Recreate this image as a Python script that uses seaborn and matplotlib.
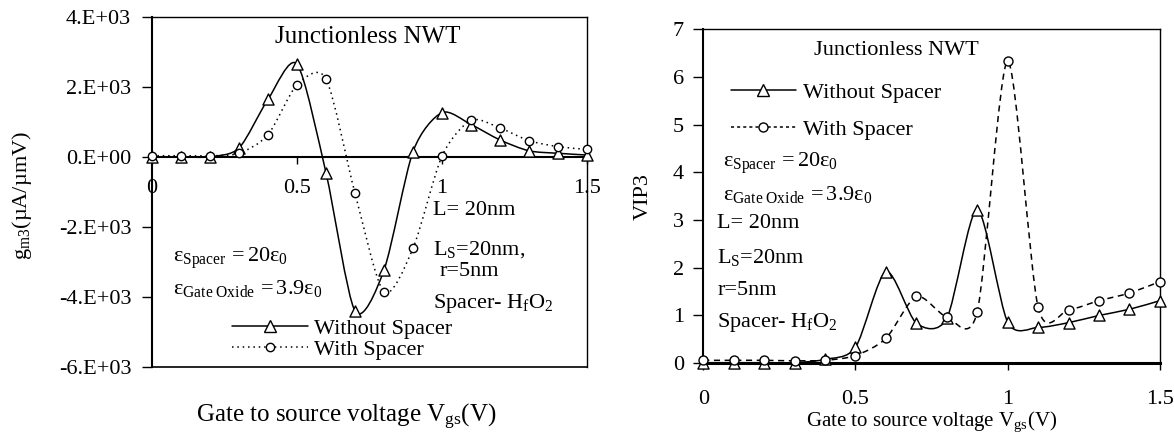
import numpy as np
import seaborn as sns
import matplotlib.pyplot as plt
from matplotlib.path import Path
from matplotlib.patches import PathPatch
from matplotlib.lines import Line2D

# gate-source voltage sweep
vgs = [0.0, 0.1, 0.2, 0.3, 0.4, 0.5, 0.6, 0.7, 0.8, 0.9, 1.0, 1.1, 1.2, 1.3, 1.4, 1.5]

# gm3 (uA/umV)
gm3_without = [0, 0, 0, 250, 1640, 2640, -460, -4400, -3230, 150, 1260, 920, 480, 170, 100, 50]
gm3_with = [30, 30, 30, 100, 630, 2050, 2220, -1040, -3860, -2610, 20, 1040, 820, 460, 290, 210]

# VIP3
vip3_without = [0.01, 0.01, 0.01, 0.01, 0.08, 0.33, 1.92, 0.84, 0.94, 3.22, 0.86, 0.75, 0.85, 1.0, 1.13, 1.31]
vip3_with = [0.06, 0.06, 0.06, 0.05, 0.06, 0.16, 0.52, 1.40, 0.97, 1.08, 6.33, 1.17, 1.12, 1.31, 1.47, 1.71]

series_labels = ["Without Spacer", "With Spacer"]
vgs_ticks = [0, 0.5, 1, 1.5]
vgs_ticklabels = ["0", "0.5", "1", "1.5"]
gm3_ticks = [-6000, -4000, -2000, 0, 2000, 4000]
gm3_ticklabels = ["-6.E+03", "-4.E+03", "-2.E+03", "0.E+00", "2.E+03", "4.E+03"]
vip3_ticks = [0, 1, 2, 3, 4, 5, 6, 7]

sns.set_theme(style="white")
plt.rcParams["font.family"] = ["Liberation Serif", "DejaVu Serif"]
plt.rcParams["mathtext.fontset"] = "custom"
plt.rcParams["mathtext.rm"] = "Liberation Serif"
plt.rcParams["mathtext.it"] = "Liberation Serif:italic"
plt.rcParams["text.color"] = "black"
plt.rcParams["axes.labelcolor"] = "black"
plt.rcParams["xtick.color"] = "black"
plt.rcParams["ytick.color"] = "black"

FS = 16


def smooth_path(x, y, k=7.5):
    # Excel-like smoothed line: cubic bezier through the data points
    pts = np.column_stack([x, y]).astype(float)
    p = np.vstack([pts[0], pts, pts[-1]])
    verts = [pts[0]]
    codes = [Path.MOVETO]
    for i in range(1, len(p) - 2):
        c1 = p[i] + (p[i + 1] - p[i - 1]) / k
        c2 = p[i + 1] - (p[i + 2] - p[i]) / k
        verts += [c1, c2, p[i + 1]]
        codes += [Path.CURVE4] * 3
    return Path(verts, codes)


def draw_series(ax, y, marker, size, ls):
    ax.add_patch(PathPatch(smooth_path(vgs, y), fill=False, edgecolor="black",
                           lw=1.1, linestyle=ls, zorder=2))
    sns.scatterplot(x=vgs, y=y, marker=marker, s=size, color="white",
                    edgecolor="black", linewidth=1.0, ax=ax, zorder=3,
                    clip_on=False, legend=False)


fig = plt.figure(figsize=(11.74, 4.36), dpi=100)
ax1 = fig.add_axes([0.1295, 0.158, 0.3705, 0.804])
ax2 = fig.add_axes([0.599, 0.167, 0.389, 0.766])

# ---------- left: gm3 ----------
draw_series(ax1, gm3_without, "^", 64, "-")
draw_series(ax1, gm3_with, "o", 36, (0, (1, 2.5)))
ax1.set_xlim(0, 1.5)
ax1.set_ylim(gm3_ticks[0], gm3_ticks[-1])
ax1.set_xticks(vgs_ticks)
ax1.set_xticklabels(vgs_ticklabels)
ax1.set_yticks(gm3_ticks)
ax1.set_yticklabels(gm3_ticklabels)
ax1.spines["bottom"].set_position(("data", 0))
ax1.axhline(gm3_ticks[0], color="black", lw=1.2, clip_on=False, zorder=1)
for s in ax1.spines.values():
    s.set_color("black")
    s.set_linewidth(1.0)
ax1.spines["left"].set_linewidth(1.5)
ax1.spines["bottom"].set_linewidth(1.5)
ax1.tick_params(axis="x", bottom=True, direction="out", length=5, width=1, pad=11, labelsize=FS)
ax1.tick_params(axis="y", left=True, direction="out", length=7, width=1, pad=8, labelsize=FS)
ax1.set_xlabel(r"Gate to source voltage $\mathregular{V_{gs}}$(V)", fontsize=18)
ax1.xaxis.set_label_coords(0.446, -0.143)
ax1.xaxis.label.set_va("center")
ax1.set_ylabel(r"$\mathregular{g_{m3}(µA/µmV)}$", fontsize=FS)
ax1.yaxis.set_label_coords(-0.299, 0.49)
ax1.yaxis.label.set_va("center")
ax1.text(0.497, 0.942, "Junctionless NWT", transform=ax1.transAxes, ha="center", va="center", fontsize=18)
ax1.text(0.048, 0.300, r"$\mathregular{ε_{Spacer}\,=20ε_0}$", transform=ax1.transAxes, fontsize=FS, va="baseline")
ax1.text(0.048, 0.208, r"$\mathregular{ε_{Gate\ Oxide}\,=3.9ε_0}$", transform=ax1.transAxes, fontsize=FS, va="baseline")
ax1.text(0.647, 0.434, "L= 20nm", transform=ax1.transAxes, fontsize=FS, va="baseline")
ax1.text(0.647, 0.322, r"$\mathregular{L_S}$=20nm,", transform=ax1.transAxes, fontsize=FS, va="baseline")
ax1.text(0.662, 0.261, "r=5nm", transform=ax1.transAxes, fontsize=FS, va="baseline")
ax1.text(0.647, 0.168, r"Spacer- $\mathregular{H_fO_2}$", transform=ax1.transAxes, fontsize=FS, va="baseline")

# ---------- right: VIP3 ----------
draw_series(ax2, vip3_without, "^", 64, "-")
draw_series(ax2, vip3_with, "o", 42, (0, (4, 3)))
ax2.set_xlim(0, 1.5)
ax2.set_ylim(vip3_ticks[0], vip3_ticks[-1])
ax2.set_xticks(vgs_ticks)
ax2.set_xticklabels(vgs_ticklabels)
ax2.set_yticks(vip3_ticks)
for s in ax2.spines.values():
    s.set_color("black")
    s.set_linewidth(1.0)
ax2.spines["bottom"].set_linewidth(2.2)
ax2.spines["left"].set_linewidth(1.5)
ax2.tick_params(axis="x", bottom=True, direction="out", length=5, width=1, pad=14, labelsize=FS)
ax2.tick_params(axis="y", left=True, direction="out", length=7, width=1, pad=7, labelsize=FS)
ax2.set_xlabel(r"Gate to source voltage $\mathregular{V_{gs}}$(V)", fontsize=15)
ax2.xaxis.set_label_coords(0.5, -0.176)
ax2.xaxis.label.set_va("center")
ax2.set_ylabel("VIP3", fontsize=FS)
ax2.yaxis.set_label_coords(-0.131, 0.5)
ax2.yaxis.label.set_va("center")
ax2.text(0.422, 0.937, "Junctionless NWT", transform=ax2.transAxes, ha="center", va="center", fontsize=FS)
ax2.text(0.044, 0.587, r"$\mathregular{ε_{Spacer}\,=20ε_0}$", transform=ax2.transAxes, fontsize=FS, va="baseline")
ax2.text(0.044, 0.488, r"$\mathregular{ε_{Gate\ Oxide}\,=3.9ε_0}$", transform=ax2.transAxes, fontsize=FS, va="baseline")
ax2.text(0.031, 0.404, "L= 20nm", transform=ax2.transAxes, fontsize=FS, va="baseline")
ax2.text(0.031, 0.299, r"$\mathregular{L_S}$=20nm", transform=ax2.transAxes, fontsize=FS, va="baseline")
ax2.text(0.031, 0.204, "r=5nm", transform=ax2.transAxes, fontsize=FS, va="baseline")
ax2.text(0.031, 0.108, r"Spacer- $\mathregular{H_fO_2}$", transform=ax2.transAxes, fontsize=FS, va="baseline")

# ---------- legends ----------
h_left = [Line2D([], [], color="black", lw=1.1, marker="^", ms=8, mfc="white", mec="black"),
          Line2D([], [], color="black", lw=1.1, ls=(0, (1, 2.5)), marker="o", ms=6, mfc="white", mec="black")]
h_right = [Line2D([], [], color="black", lw=1.1, marker="^", ms=8, mfc="white", mec="black"),
           Line2D([], [], color="black", lw=1.1, ls=(0, (2, 2)), marker="o", ms=6.5, mfc="white", mec="black")]
ax1.legend(h_left, series_labels, loc="center left", bbox_to_anchor=(0.184, 0.080),
           frameon=False, fontsize=FS, handlelength=3.4, handletextpad=0.3,
           labelspacing=0.0, borderpad=0, borderaxespad=0)
ax2.legend(h_right, series_labels, loc="center left", bbox_to_anchor=(0.061, 0.754),
           frameon=False, fontsize=FS, handlelength=2.9, handletextpad=0.35,
           labelspacing=0.75, borderpad=0, borderaxespad=0)

fig.savefig("out.png", dpi=100)
